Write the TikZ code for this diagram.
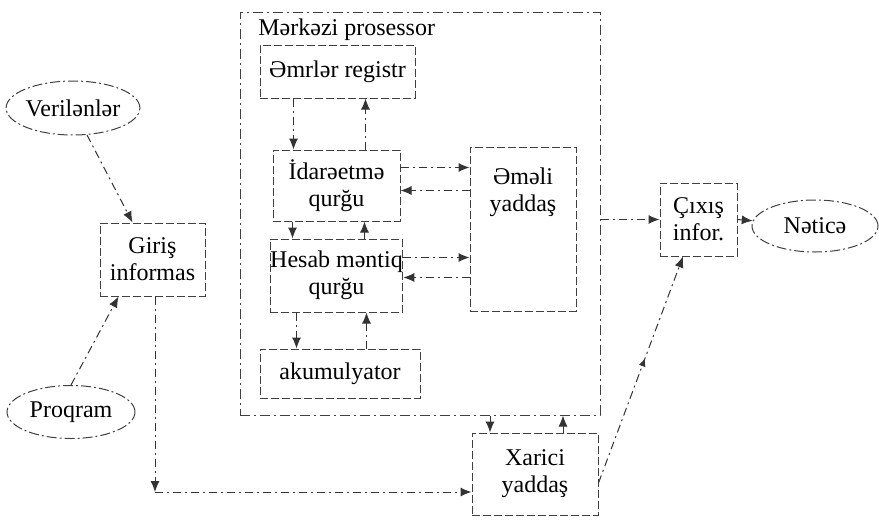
\documentclass[tikz,border=0pt]{standalone}
\usepackage{fontspec}
\setmainfont{Liberation Serif}
\usetikzlibrary{shapes.geometric,arrows.meta,decorations.markings}

\begin{document}
\begin{tikzpicture}[x=0.5pt,y=-0.5pt,
	>={Latex[length=5.5pt,width=4.5pt]},
	every node/.style={font=\fontsize{12}{13.5}\selectfont},
	blok/.style={draw=black!75, line width=0.5pt, dash pattern=on 4pt off 1.5pt, inner sep=0pt, align=center},
	oval/.style={ellipse, draw=black!75, line width=0.5pt, dash pattern=on 5pt off 1.5pt on 1pt off 1.5pt, inner sep=0pt},
	yol/.style={->, draw=black!80, line width=0.5pt, dash pattern=on 4pt off 2pt on 1pt off 2pt}]
	\useasboundingbox (0,0) rectangle (879,525);
	% central processor frame
	\node[blok, dash pattern=on 5pt off 2pt on 1pt off 2pt, minimum width=180pt, minimum height=201.5pt] (prosessor) at (420,213.5) {};
	\node[anchor=west, inner sep=0pt] (mpbasliq) at (258,30) {Mərkəzi prosessor};
	\node[blok, minimum width=77.5pt, minimum height=26.5pt] (registr) at (337.5,71.5) {Əmrlər registr};
	\node[blok, minimum width=63.5pt, minimum height=35.5pt] (idare) at (336.5,185.5) {İdarəetmə\\qurğu};
	\node[blok, minimum width=63.5pt, minimum height=36.5pt] (hesab) at (336.5,275.5) {Hesab məntiq\\qurğu};
	\node[blok, minimum width=80pt, minimum height=24.5pt] (akum) at (340,373.5) {akumulyator};
	\node[blok, minimum width=53pt, minimum height=82pt,
		label={[anchor=north, align=center, yshift=-7pt]north:Əməli\\yaddaş}] (emeli) at (523,229) {};
	% input / output
	\node[oval, minimum width=63.5pt, minimum height=27pt] (veril) at (73,108) {Verilənlər};
	\node[oval, minimum width=64pt, minimum height=26.5pt] (proqram) at (71,412) {Proqram};
	\node[blok, minimum width=52.5pt, minimum height=36.5pt] (giris) at (152.5,259.5) {Giriş\\informas};
	\node[blok, minimum width=38.5pt, minimum height=36.5pt] (cixis) at (698.5,219.5) {Çıxış\\infor.};
	\node[oval, minimum width=63pt, minimum height=26pt] (netice) at (815,226) {Nəticə};
	\node[blok, minimum width=63pt, minimum height=41pt] (xarici) at (535,474) {Xarici\\yaddaş};
	\coordinate (kose) at (155,492);

	% inside the processor
	\draw[yol] ([xshift=-22pt]registr.south) -- ([xshift=-22pt]registr.south |- idare.north);
	\draw[yol] ([xshift=14pt]registr.south |- idare.north) -- ([xshift=14pt]registr.south);
	\draw[yol] ([xshift=-22pt]idare.south) -- ([xshift=-22pt]idare.south |- hesab.north);
	\draw[yol] ([xshift=14pt]idare.south |- hesab.north) -- ([xshift=14pt]idare.south);
	\draw[yol] ([xshift=-20pt]hesab.south) -- ([xshift=-20pt]hesab.south |- akum.north);
	\draw[yol] ([xshift=15pt]hesab.south |- akum.north) -- ([xshift=15pt]hesab.south);
	\draw[yol] ([yshift=9pt]idare.east) -- ([yshift=9pt]idare.east -| emeli.west);
	\draw[yol] ([yshift=-2.5pt]idare.east -| emeli.west) -- ([yshift=-2.5pt]idare.east);
	\draw[yol] ([yshift=9pt]hesab.east) -- ([yshift=9pt]hesab.east -| emeli.west);
	\draw[yol] ([yshift=-1pt]hesab.east -| emeli.west) -- ([yshift=-1pt]hesab.east);

	% data flow
	\draw[yol] (veril) -- ([xshift=-10pt]giris.north);
	\draw[yol] (proqram.north) -- ([xshift=-17pt]giris.south);
	\draw[yol] (giris.south -| kose) -- (kose);
	\draw[yol] (kose) -- (kose -| xarici.west);
	\draw[yol] ([xshift=-22.5pt]xarici.north |- prosessor.south) -- ([xshift=-22.5pt]xarici.north);
	\draw[yol] ([xshift=14pt]xarici.north) -- ([xshift=14pt]xarici.north |- prosessor.south);
	\draw[yol] (cixis.west -| prosessor.east) -- (cixis.west);
	\draw[yol] (cixis.east) -- (netice);
	\draw[yol, postaction={decorate}, decoration={markings, mark=at position 0.55 with {\arrow{Latex[length=4pt,width=3.5pt]}}}]
		([yshift=-4.5pt]xarici.east) -- ([xshift=-7.75pt]cixis.south);
\end{tikzpicture}
\end{document}
